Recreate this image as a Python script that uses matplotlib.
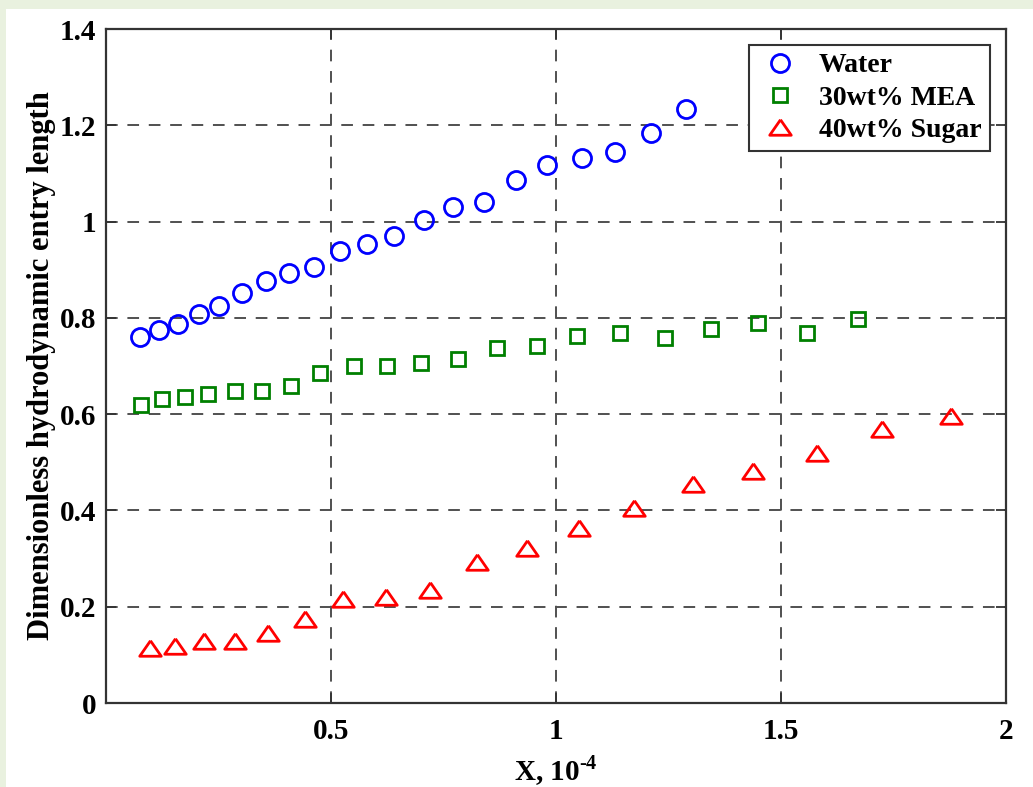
import numpy as np
import matplotlib
matplotlib.use("Agg")
import matplotlib.pyplot as plt
from matplotlib.patches import Rectangle

plt.rcParams["font.family"] = ["Liberation Serif", "DejaVu Serif"]
plt.rcParams["font.weight"] = "bold"
plt.rcParams["mathtext.fontset"] = "custom"
plt.rcParams["mathtext.rm"] = "Liberation Serif:bold"
plt.rcParams["mathtext.bf"] = "Liberation Serif:bold"

# Water
water_x = [0.075, 0.117, 0.160, 0.206, 0.252, 0.302, 0.355, 0.406, 0.463, 0.521,
           0.581, 0.640, 0.707, 0.771, 0.839, 0.910, 0.980, 1.058, 1.132, 1.211, 1.289]
water_y = [0.760, 0.775, 0.787, 0.809, 0.825, 0.851, 0.877, 0.894, 0.906, 0.939,
           0.953, 0.970, 1.003, 1.030, 1.040, 1.086, 1.117, 1.133, 1.144, 1.183, 1.234]

# 30wt% MEA
mea_x = [0.077, 0.125, 0.175, 0.227, 0.287, 0.346, 0.411, 0.476, 0.550, 0.624,
         0.701, 0.782, 0.868, 0.957, 1.047, 1.143, 1.243, 1.344, 1.448, 1.557, 1.670]
mea_y = [0.619, 0.631, 0.636, 0.641, 0.649, 0.649, 0.659, 0.686, 0.700, 0.700,
         0.706, 0.714, 0.737, 0.742, 0.763, 0.769, 0.759, 0.776, 0.790, 0.769, 0.798]

# 40wt% Sugar
sugar_x = [0.097, 0.154, 0.217, 0.287, 0.360, 0.442, 0.527, 0.622, 0.720, 0.824,
           0.936, 1.052, 1.174, 1.304, 1.438, 1.581, 1.725, 1.878]
sugar_y = [0.115, 0.118, 0.128, 0.128, 0.146, 0.175, 0.216, 0.221, 0.235, 0.293,
           0.322, 0.364, 0.405, 0.455, 0.482, 0.519, 0.569, 0.596]

x_ticks = [0.5, 1, 1.5, 2]
x_ticklabels = ["0.5", "1", "1.5", "2"]
y_ticks = [0, 0.2, 0.4, 0.6, 0.8, 1.0, 1.2, 1.4]
y_ticklabels = ["0", "0.2", "0.4", "0.6", "0.8", "1", "1.2", "1.4"]

fig = plt.figure(figsize=(10.33, 7.87), dpi=100)
fig.patch.set_facecolor("white")
# light green frame strips (top and left)
bg = "#e9f1df"
fig.patches.append(Rectangle((0, 1 - 9 / 787), 1, 9 / 787, transform=fig.transFigure,
                             facecolor=bg, edgecolor="none", zorder=-1))
fig.patches.append(Rectangle((0, 0), 6 / 1033, 1, transform=fig.transFigure,
                             facecolor=bg, edgecolor="none", zorder=-1))

ax = fig.add_axes([106 / 1033, 1 - 703 / 787, 900 / 1033, 674 / 787])

wide_tri = [(0, 0.72), (-1, -0.72), (1, -0.72), (0, 0.72)]

ax.plot(water_x, water_y, linestyle="none", marker="o", markersize=13,
        markerfacecolor="none", markeredgecolor="#0000ff", markeredgewidth=2.0,
        label="Water", zorder=3)
ax.plot(mea_x, mea_y, linestyle="none", marker="s", markersize=10.5,
        markerfacecolor="none", markeredgecolor="#008000", markeredgewidth=2.0,
        label="30wt% MEA", zorder=3)
ax.plot(sugar_x, sugar_y, linestyle="none", marker=wide_tri, markersize=15.5,
        markerfacecolor="none", markeredgecolor="#ff0000", markeredgewidth=2.0,
        label="40wt% Sugar", zorder=3)

ax.set_xlim(0, 2)
ax.set_ylim(0, 1.4)
ax.set_xticks(x_ticks)
ax.set_xticklabels(x_ticklabels)
ax.set_yticks(y_ticks)
ax.set_yticklabels(y_ticklabels)

ax.grid(True, color="#505050", linestyle=(0, (6, 5)), linewidth=1.4)
for s in ax.spines.values():
    s.set_color("#333333")
    s.set_linewidth(1.6)
ax.tick_params(direction="in", length=7, width=1.3, color="#333333",
               top=True, right=True, labelsize=21)
ax.tick_params(axis="x", pad=11)
ax.tick_params(axis="y", pad=7)
for lbl in ax.get_xticklabels() + ax.get_yticklabels():
    lbl.set_fontweight("bold")

ax.set_xlabel(r"X, 10$^{\text{-}4}$", fontsize=21, fontweight="bold", labelpad=6)
ax.set_ylabel("Dimensionless hydrodynamic entry length", fontsize=22,
              fontweight="bold", labelpad=3)

leg = ax.legend(loc="upper right", bbox_to_anchor=(0.982, 0.977), fancybox=False,
                framealpha=1, edgecolor="#333333", prop={"size": 20, "weight": "bold"},
                handletextpad=0.6, borderpad=0.3, labelspacing=0.25, handlelength=1.6,
                borderaxespad=0)
leg.get_frame().set_linewidth(1.5)

fig.savefig("out.png", dpi=100)
